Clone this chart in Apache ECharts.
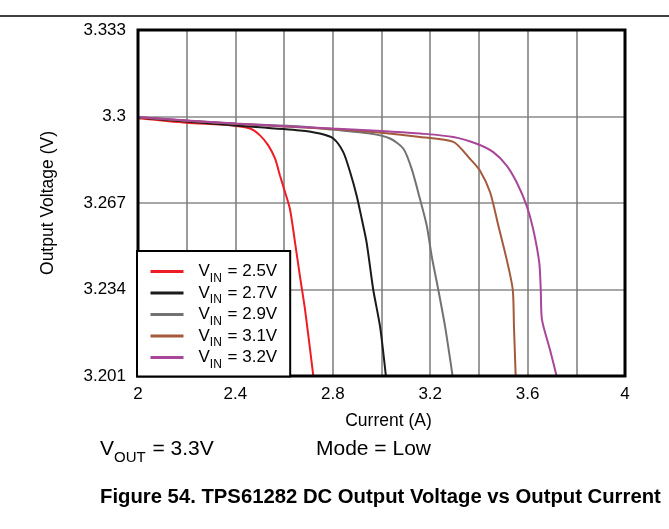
<!DOCTYPE html>
<html>
<head>
<meta charset="utf-8">
<script src="https://cdn.jsdelivr.net/npm/echarts@6/dist/echarts.min.js"></script>
<style>
html,body{margin:0;padding:0;background:#fff;}
#chart{width:669px;height:529px;}
</style>
</head>
<body>
<div id="chart"></div>
<script>
// ---- data ----
const vinLabels = ['2.5V', '2.7V', '2.9V', '3.1V', '3.2V'];
const xTickLabels = ['2', '2.4', '2.8', '3.2', '3.6', '4'];
const yTickLabels = ['3.201', '3.234', '3.267', '3.3', '3.333'];

const cur25 = [2.0, 2.2, 2.378, 2.46, 2.501, 2.535, 2.563, 2.583, 2.604, 2.624, 2.645, 2.665, 2.686, 2.720];
const volt25 = [3.2993, 3.2976, 3.2967, 3.2954, 3.2928, 3.2890, 3.2839, 3.2775, 3.2711, 3.2647, 3.2519, 3.2391, 3.2263, 3.2010];

const cur27 = [2.0, 2.2, 2.4, 2.665, 2.747, 2.802, 2.843, 2.871, 2.898, 2.919, 2.939, 2.966, 2.994, 3.018];
const volt27 = [3.2996, 3.2981, 3.2966, 3.2947, 3.2935, 3.2916, 3.2864, 3.2788, 3.2698, 3.2609, 3.2519, 3.2340, 3.2199, 3.2010];

const cur29 = [2.0, 2.4, 2.665, 2.8, 2.953, 3.035, 3.090, 3.124, 3.158, 3.186, 3.206, 3.233, 3.261, 3.292];
const volt29 = [3.2997, 3.2972, 3.2962, 3.2950, 3.2935, 3.2916, 3.2877, 3.2800, 3.2685, 3.2583, 3.2468, 3.2340, 3.2199, 3.2010];

const cur31 = [2.0, 2.4, 2.8, 3.0, 3.158, 3.295, 3.363, 3.404, 3.446, 3.480, 3.514, 3.539, 3.544, 3.551];
const volt31 = [3.2997, 3.2972, 3.2952, 3.2938, 3.2922, 3.2903, 3.2839, 3.2794, 3.2711, 3.2583, 3.2455, 3.2340, 3.2199, 3.2010];

const cur32 = [2.0, 2.4, 2.8, 3.0, 3.158, 3.295, 3.391, 3.459, 3.514, 3.555, 3.596, 3.623, 3.648, 3.654, 3.659, 3.692, 3.719];
const volt32 = [3.2998, 3.2973, 3.2954, 3.2945, 3.2935, 3.2922, 3.2896, 3.2864, 3.2813, 3.2749, 3.2660, 3.2570, 3.2442, 3.2340, 3.2225, 3.2110, 3.2010];

const seriesColors = ['#ee1c24', '#1a1a1a', '#727272', '#a35a3c', '#a8469a'];
// ---- build ----
const FONT = '"Liberation Sans", Arial, sans-serif';
const curs = [cur25, cur27, cur29, cur31, cur32];
const volts = [volt25, volt27, volt29, volt31, volt32];
function zip(a, b) { return a.map((x, i) => [x, b[i]]); }

const series = vinLabels.map((lab, i) => ({
  name: 'VIN = ' + lab,
  type: 'line',
  data: zip(curs[i], volts[i]),
  symbol: 'none',
  smooth: 0.25,
  lineStyle: { color: seriesColors[i], width: 2 },
  itemStyle: { color: seriesColors[i] },
  z: 3
}));

const chart = echarts.init(document.getElementById('chart'), null, { renderer: 'canvas' });
chart.setOption({
  animation: false,
  backgroundColor: '#fff',
  textStyle: { fontFamily: FONT },
  grid: {
    left: 138, right: 44, top: 30, bottom: 153,
    show: true, borderColor: '#000', borderWidth: 3, backgroundColor: 'transparent', z: 4
  },
  xAxis: {
    type: 'value', min: 2, max: 4, interval: 0.2,
    name: 'Current (A)', nameLocation: 'middle', nameGap: 36,
    nameTextStyle: { fontSize: 17.5, color: '#000', fontFamily: FONT, padding: [0, 0, 0, 14] },
    axisLine: { show: false }, axisTick: { show: false },
    axisLabel: {
      fontSize: 17, color: '#000', fontFamily: FONT, margin: 10,
      formatter: function (v) {
        const k = Math.round((v - 2) / 0.2);
        return k % 2 === 0 ? xTickLabels[k / 2] : '';
      }
    },
    splitLine: { show: true, lineStyle: { color: '#7a7a7a', width: 1.5 } }
  },
  yAxis: {
    type: 'value', min: 3.201, max: 3.333, interval: 0.033,
    name: 'Output Voltage (V)', nameLocation: 'middle', nameGap: 81,
    nameTextStyle: { fontSize: 17.5, color: '#000', fontFamily: FONT },
    axisLine: { show: false }, axisTick: { show: false },
    axisLabel: {
      fontSize: 17, color: '#000', fontFamily: FONT, margin: 12,
      formatter: function (v) {
        const k = Math.round((v - 3.201) / 0.033);
        return yTickLabels[k] || '';
      }
    },
    splitLine: { show: true, lineStyle: { color: '#8a8a8a', width: 1.5 } }
  },
  legend: {
    orient: 'vertical',
    left: 137, top: 251,
    backgroundColor: '#fff', borderColor: '#000', borderWidth: 2,
    padding: [12, 13, 6, 12],
    itemWidth: 33, itemHeight: 20, itemGap: 0,
    itemStyle: { opacity: 0 },
    lineStyle: { width: 3 },
    data: series.map(s => s.name),
    formatter: function (name) {
      return '{v|V}{s|IN}{v| = ' + name.replace('VIN = ', '') + '}';
    },
    textStyle: {
      fontFamily: FONT, color: '#000', padding: [0, 0, 0, 10],
      rich: {
        v: { fontSize: 17, fontFamily: FONT, color: '#000', lineHeight: 20, verticalAlign: 'middle' },
        s: { fontSize: 12, fontFamily: FONT, color: '#000', lineHeight: 20, verticalAlign: 'bottom', padding: [0, 1, -3, 0] }
      }
    },
    z: 6
  },
  graphic: [
    { type: 'line', shape: { x1: 0, y1: 16, x2: 669, y2: 16 }, style: { stroke: '#000', lineWidth: 1.5 } },
    {
      type: 'text', left: 100, top: 439,
      style: {
        text: '{v|V}{s|OUT}{v| = 3.3V}',
        rich: {
          v: { fontSize: 21, fontFamily: FONT, fill: '#000', lineHeight: 25, verticalAlign: 'middle' },
          s: { fontSize: 15, fontFamily: FONT, fill: '#000', lineHeight: 25, verticalAlign: 'bottom', padding: [0, 1, -3, 0] }
        }
      }
    },
    {
      type: 'text', left: 316, top: 439,
      style: { text: 'Mode = Low', font: '21px ' + FONT, fill: '#000' }
    },
    {
      type: 'text', left: 100, top: 487,
      style: { text: 'Figure 54. TPS61282 DC Output Voltage vs Output Current', font: 'bold 20.3px ' + FONT, fill: '#000' }
    }
  ],
  series: series
});
</script>
</body>
</html>
